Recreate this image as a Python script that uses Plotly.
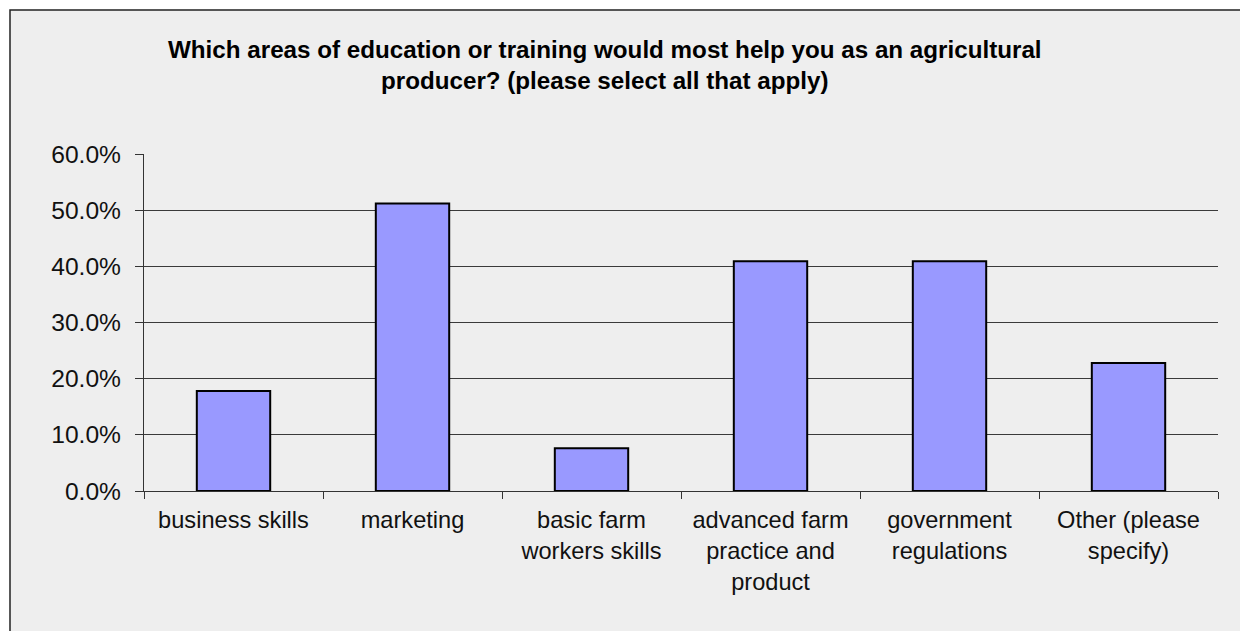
import plotly.graph_objects as go

# Survey responses: share of producers selecting each training area
categories = [
    "business skills",
    "marketing",
    "basic farm<br>workers skills",
    "advanced farm<br>practice and<br>product",
    "government<br>regulations",
    "Other (please<br>specify)",
]
shares = [0.178, 0.512, 0.076, 0.409, 0.409, 0.228]

title_text = ("Which areas of education or training would most help you as an agricultural"
              "<br>producer? (please select all that apply)")

W, H = 1240, 631
ML, MR, MT, MB = 144, 22, 154, 140
PW, PH = W - ML - MR, H - MT - MB


def px_x(px):
    return (px - ML) / PW


def px_y(py):
    return (H - MB - py) / PH


fig = go.Figure(
    go.Bar(
        x=categories,
        y=shares,
        marker=dict(color="#9999FF", line=dict(color="#000000", width=2)),
        width=0.41,
    )
)

fig.update_layout(
    width=W,
    height=H,
    margin=dict(l=ML, r=MR, t=MT, b=MB),
    paper_bgcolor="#FFFFFF",
    plot_bgcolor="rgba(0,0,0,0)",
    showlegend=False,
    font=dict(family="Liberation Sans, Arial, sans-serif", size=24.6, color="#111111"),
    shapes=[
        dict(
            type="rect", xref="paper", yref="paper", layer="below",
            x0=px_x(10), x1=px_x(1260), y0=px_y(660), y1=px_y(10),
            fillcolor="#EEEEEE", line=dict(color="#222222", width=1.5),
        )
    ],
    annotations=[
        dict(
            text=title_text, xref="paper", yref="paper",
            x=px_x(605), y=px_y(65), xanchor="center", yanchor="middle",
            showarrow=False, align="center",
            font=dict(family="Liberation Sans, Arial, sans-serif", size=24.2,
                      color="#000000", weight="bold"),
        )
    ],
)

fig.update_yaxes(
    range=[0, 0.6], dtick=0.1, tickformat=".1%",
    showgrid=True, gridcolor="#3a3a3a", gridwidth=1.2,
    showline=True, linecolor="#333333", linewidth=1.2,
    ticks="outside", ticklen=8, tickcolor="#333333",
    ticklabelstandoff=9, zeroline=False,
)
fig.update_xaxes(
    type="category", tickson="boundaries",
    showgrid=False, showline=True, linecolor="#333333", linewidth=1.2,
    ticks="outside", ticklen=7, tickcolor="#333333",
    tickfont=dict(size=23.6), ticklabelstandoff=8,
)

fig.write_html("out.html")
